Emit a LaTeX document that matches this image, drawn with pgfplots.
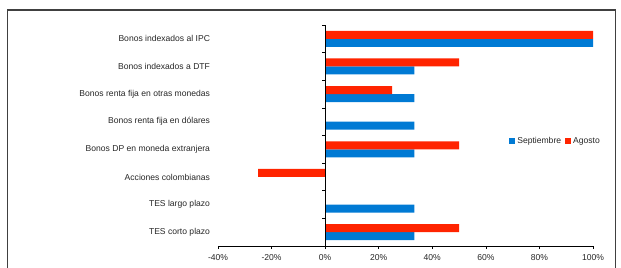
\documentclass[border=0pt]{standalone}
\usepackage{fontspec}
\setmainfont{Liberation Sans}
\usepackage{pgfplots}
\pgfplotsset{compat=1.18}
\definecolor{sepblue}{RGB}{0,122,212}
\definecolor{agored}{RGB}{255,36,0}
\begin{document}
\begin{tikzpicture}[font=\fontsize{8.5}{10}\selectfont]
\useasboundingbox (0,0) rectangle (621bp,268bp);
\draw[line width=1.2bp, black!75] (7.5bp,-5bp) -- (7.5bp,258bp) -- (615.5bp,258bp) -- (615.5bp,-5bp);
\begin{axis}[
  at={(218bp,22bp)}, anchor=south west,
  scale only axis, width=375bp, height=221bp,
  xmin=-40, xmax=100, ymin=-0.5, ymax=7.5,
  axis x line*=bottom, axis y line*=left,
  y axis line style={draw=none},
  xtick={-40,-20,0,20,40,60,80,100},
  xticklabels={-40\%,-20\%,0\%,20\%,40\%,60\%,80\%,100\%},
  tick align=outside, major tick length=3bp,
  x axis line style={-, line width=0.8bp},
  xtick style={line width=0.6bp, black},
  ytick style={draw=none},
  ytick={0,...,7},
  yticklabels={TES corto plazo,TES largo plazo,Acciones colombianas,Bonos DP en moneda extranjera,Bonos renta fija en dólares,Bonos renta fija en otras monedas,Bonos indexados a DTF,Bonos indexados al IPC},
  yticklabel style={font=\fontsize{8.6}{10}\selectfont, xshift=-1.5bp, text=black!85},
  xticklabel style={font=\fontsize{8.6}{10}\selectfont, yshift=-1.5bp, text=black!85},
  xbar, bar width=8bp,
  legend style={at={(0.775,0.475)}, anchor=west, draw=none, fill=none, legend columns=2, font=\fontsize{8.6}{10}\selectfont, text=black!85, /tikz/every even column/.append style={column sep=1.5bp}, inner sep=0pt},
  legend image code/.code={\fill[#1] (0bp,-3bp) rectangle (6.5bp,3.5bp);},
  clip=false,
]
\addplot[draw=none, fill=sepblue, bar shift=-4bp] coordinates {(33.3,0) (33.3,1) (33.3,3) (33.3,4) (33.3,5) (33.3,6) (100,7)};
\addplot[draw=none, fill=agored, bar shift=4bp] coordinates {(50,0) (-25,2) (50,3) (25,5) (50,6) (100,7)};
\legend{Septiembre,Agosto}
\draw[line width=0.8bp] (axis cs:0,-0.5) -- (axis cs:0,7.5);
\draw[line width=0.6bp] (axis cs:0,-0.5) -- ([xshift=-3bp]axis cs:0,-0.5);
\draw[line width=0.6bp] (axis cs:0,0.5) -- ([xshift=-3bp]axis cs:0,0.5);
\draw[line width=0.6bp] (axis cs:0,1.5) -- ([xshift=-3bp]axis cs:0,1.5);
\draw[line width=0.6bp] (axis cs:0,2.5) -- ([xshift=-3bp]axis cs:0,2.5);
\draw[line width=0.6bp] (axis cs:0,3.5) -- ([xshift=-3bp]axis cs:0,3.5);
\draw[line width=0.6bp] (axis cs:0,4.5) -- ([xshift=-3bp]axis cs:0,4.5);
\draw[line width=0.6bp] (axis cs:0,5.5) -- ([xshift=-3bp]axis cs:0,5.5);
\draw[line width=0.6bp] (axis cs:0,6.5) -- ([xshift=-3bp]axis cs:0,6.5);
\draw[line width=0.6bp] (axis cs:0,7.5) -- ([xshift=-3bp]axis cs:0,7.5);
\end{axis}
\end{tikzpicture}
\end{document}
